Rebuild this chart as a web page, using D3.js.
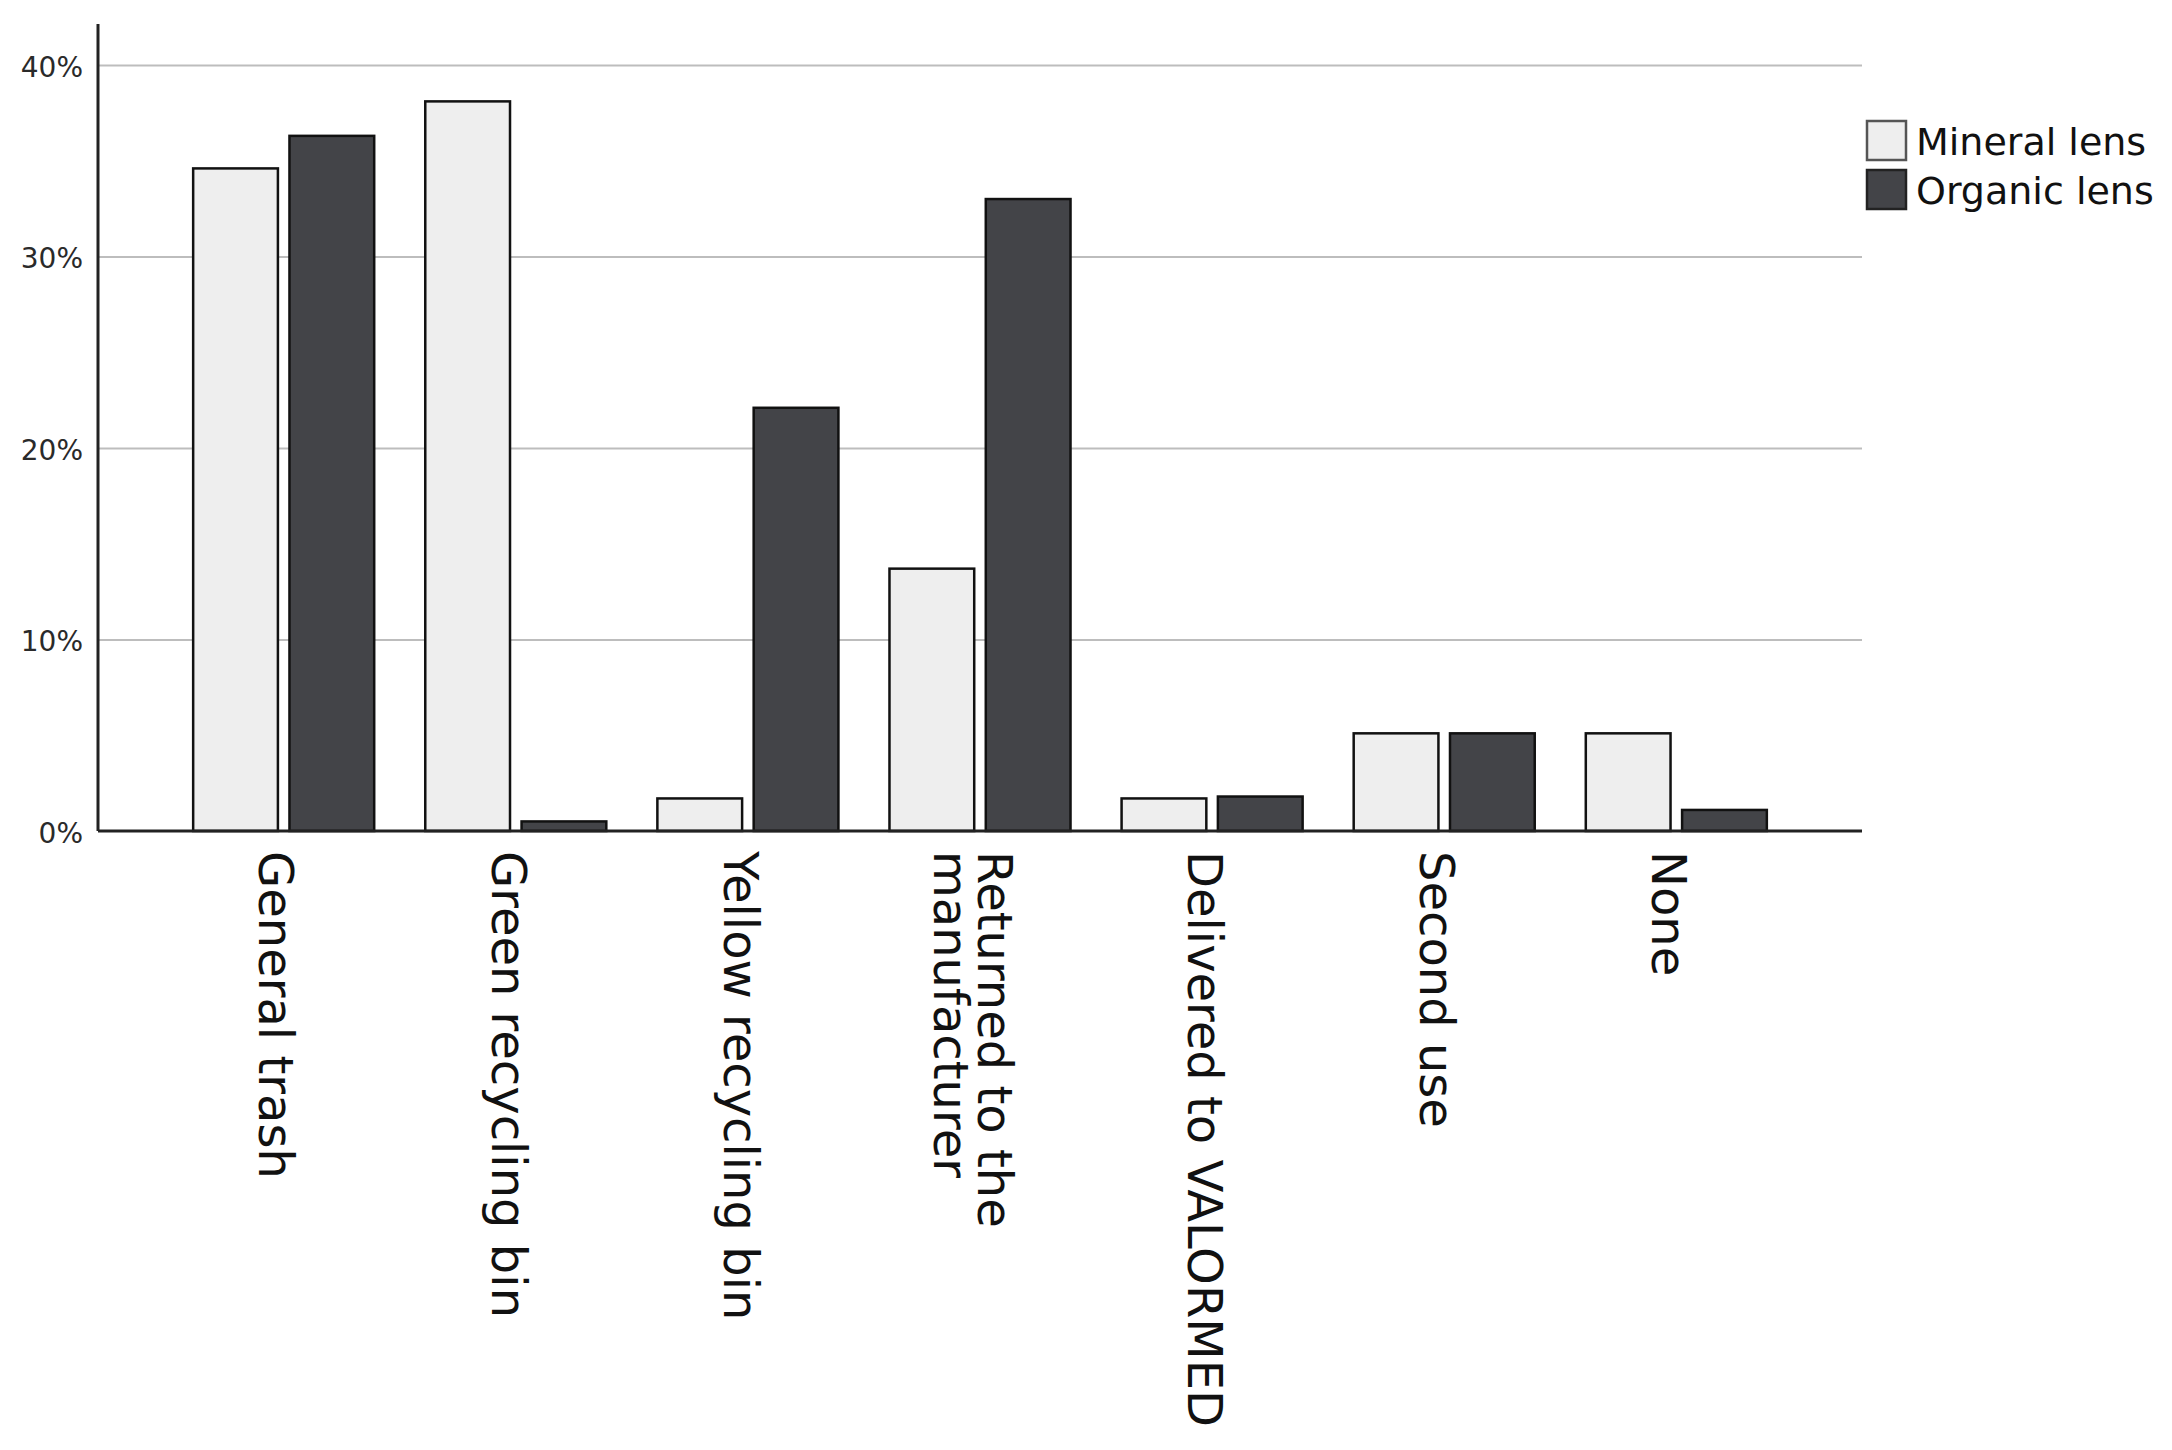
<!DOCTYPE html>
<html>
<head>
<meta charset="utf-8">
<script src="https://cdn.jsdelivr.net/npm/d3@7"></script>
<style>
  body { margin: 0; background: #fff; }
  svg { display: block; font-family: "DejaVu Sans", Verdana, sans-serif; }
</style>
</head>
<body>
<svg id="chart" width="2172" height="1450"></svg>
<script>
// categories + the two series (share of respondents)
var categories = ["General trash", "Green recycling bin", "Yellow recycling bin",
  "Returned to the\nmanufacturer", "Delivered to VALORMED", "Second use", "None"];
var seriesNames = ["Mineral lens", "Organic lens"];
var mineral = [0.346, 0.381, 0.017, 0.137, 0.017, 0.051, 0.051];
var organic = [0.363, 0.005, 0.221, 0.330, 0.018, 0.051, 0.011];
var yTicks = [0, 0.1, 0.2, 0.3, 0.4];
var colors = ["#eeeeee", "#434448"];

var svg = d3.select("#chart"),
    plotLeft = 98, plotRight = 1862, plotTop = 24, plotBottom = 831;

var rows = categories.map(function (c, i) {
  return {cat: c, vals: [mineral[i], organic[i]]};
});

var x0 = d3.scaleBand().domain(categories).range([plotLeft, plotRight])
    .paddingInner(0.22).paddingOuter(0.41);
var x1 = d3.scaleBand().domain(seriesNames).range([0, x0.bandwidth()]).paddingInner(0.12);
var y = d3.scaleLinear().domain([0, 0.4]).range([plotBottom, 65]);

// gridlines
svg.append("g")
    .attr("transform", "translate(" + plotLeft + ",0)")
    .call(d3.axisLeft(y).tickValues(yTicks.slice(1)).tickSize(-(plotRight - plotLeft)).tickFormat(""))
    .call(function (g) { g.select(".domain").remove(); })
    .selectAll("line").attr("stroke", "#bdbdbd").attr("stroke-width", 2);

// y tick labels
svg.append("g")
    .attr("transform", "translate(" + plotLeft + ",0)")
    .call(d3.axisLeft(y).tickValues(yTicks).tickFormat(d3.format(".0%")).tickSize(0).tickPadding(15))
    .call(function (g) { g.select(".domain").remove(); })
    .selectAll("text")
    .attr("font-size", 28).attr("fill", "#2a2a2a").attr("font-family", "DejaVu Sans").attr("dy", "0.4em");

// bars
var grp = svg.append("g").selectAll("g").data(rows).enter().append("g")
    .attr("transform", function (d) { return "translate(" + x0(d.cat) + ",0)"; });

grp.selectAll("rect")
    .data(function (d) { return d.vals.map(function (v, k) { return {k: k, v: v}; }); })
    .enter().append("rect")
    .attr("x", function (d) { return x1(seriesNames[d.k]); })
    .attr("y", function (d) { return y(d.v); })
    .attr("width", x1.bandwidth())
    .attr("height", function (d) { return y(0) - y(d.v); })
    .attr("fill", function (d) { return colors[d.k]; })
    .attr("stroke", "#111")
    .attr("stroke-width", 2.5);

// axes lines
svg.append("line").attr("x1", plotLeft).attr("x2", plotLeft).attr("y1", plotTop).attr("y2", plotBottom)
    .attr("stroke", "#222").attr("stroke-width", 3);
svg.append("line").attr("x1", plotLeft).attr("x2", plotRight).attr("y1", plotBottom).attr("y2", plotBottom)
    .attr("stroke", "#222").attr("stroke-width", 3);

// rotated category labels
var lineGap = 44;
var lab = svg.append("g").selectAll("text").data(categories).enter().append("text")
    .attr("transform", function (d) {
      return "translate(" + (x0(d) + x0.bandwidth() / 2 - 7) + "," + (plotBottom + 20) + ") rotate(90)";
    })
    .attr("text-anchor", "start")
    .attr("font-size", 48)
    .attr("fill", "#111");

lab.each(function (d) {
  var lines = d.split("\n"), n = lines.length, t = d3.select(this);
  lines.forEach(function (s, i) {
    var off = (i - (n - 1) / 2) * lineGap;
    t.append("tspan").attr("x", 0).attr("y", off).attr("dy", "0.36em").text(s);
  });
});

// legend
var leg = svg.append("g").attr("transform", "translate(1867,121)");
seriesNames.forEach(function (s, i) {
  var g = leg.append("g").attr("transform", "translate(0," + (i * 49) + ")");
  g.append("rect").attr("width", 39).attr("height", 39)
      .attr("fill", colors[i]).attr("stroke", i === 0 ? "#555" : "#222").attr("stroke-width", 2.5);
  g.append("text").attr("x", 49).attr("y", 20).attr("dy", "0.36em")
      .attr("font-size", 38).attr("fill", "#111").text(s);
});
</script>
</body>
</html>
